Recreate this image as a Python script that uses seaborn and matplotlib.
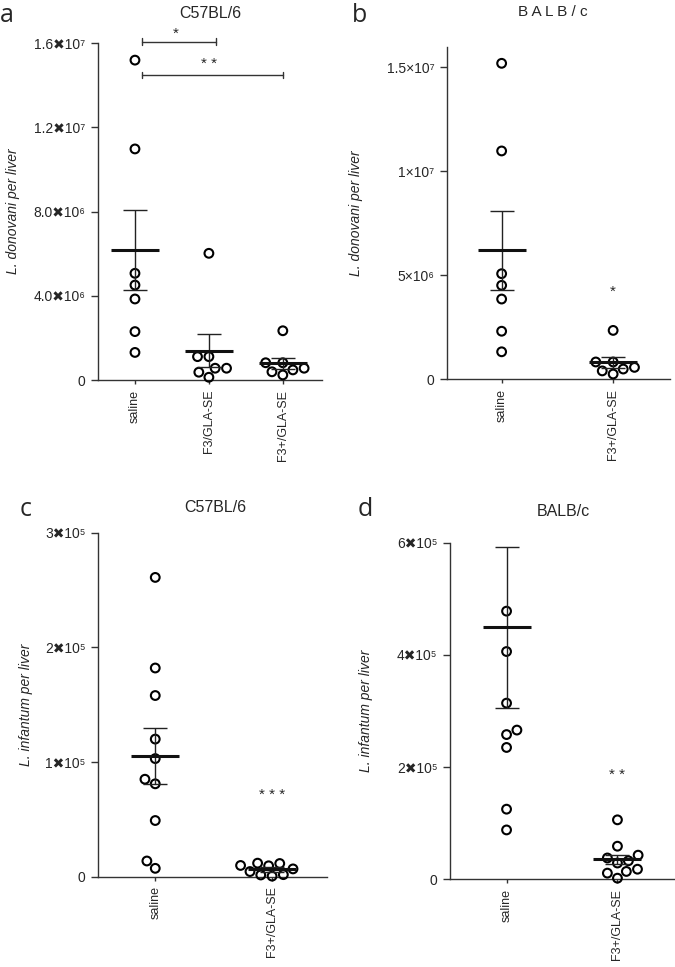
import matplotlib
matplotlib.use("Agg")
import matplotlib.pyplot as plt
import seaborn as sns
import pandas as pd
import numpy as np

# ---------------- data ----------------
groups_a = ["saline", "F3/GLA-SE", "F3+/GLA-SE"]
groups_2 = ["saline", "F3+/GLA-SE"]

# panel a / b : L. donovani per liver
don_saline = [15.2e6, 10.98e6, 5.07e6, 4.51e6, 3.85e6, 2.30e6, 1.31e6]
don_f3 = [6.02e6, 1.11e6, 1.11e6, 0.56e6, 0.56e6, 0.37e6, 0.13e6]
don_f3plus = [2.34e6, 0.82e6, 0.82e6, 0.56e6, 0.48e6, 0.39e6, 0.24e6]
mean_a = [6.18e6, 1.39e6, 0.79e6]
sem_a = [1.90e6, 0.78e6, 0.27e6]
mean_b = [6.20e6, 0.80e6]
sem_b = [1.90e6, 0.26e6]

# panel c : L. infantum per liver (C57BL/6)
inf_c_saline = [2.61e5, 1.82e5, 1.58e5, 1.20e5, 1.03e5, 0.85e5, 0.81e5, 0.49e5, 0.137e5, 0.073e5]
inf_c_f3plus = [9.5e3, 11.5e3, 11.8e3, 9.8e3, 1.5e3, 0.5e3, 1.8e3, 4.5e3, 6.8e3]
mean_c = [1.055e5, 6.4e3]
sem_c = [0.245e5, 2.0e3]

# panel d : L. infantum per liver (BALB/c)
inf_d_saline = [4.78e5, 4.06e5, 3.14e5, 2.66e5, 2.58e5, 2.35e5, 1.25e5, 0.88e5]
inf_d_f3plus = [1.06e5, 0.59e5, 0.43e5, 0.38e5, 0.33e5, 0.29e5, 0.18e5, 0.14e5, 0.11e5, 0.02e5]
mean_d = [4.49e5, 0.36e5]
sem_d = [1.43e5, 0.08e5]

ticks_a = [0, 4e6, 8e6, 1.2e7, 1.6e7]
ticklabels_a = ["0", "4.0\u271610\u2076", "8.0\u271610\u2076", "1.2\u271610\u2077", "1.6\u271610\u2077"]
ticks_b = [0, 5e6, 1e7, 1.5e7]
ticklabels_b = ["0", "5\u00d710\u2076", "1\u00d710\u2077", "1.5\u00d710\u2077"]
ticks_c = [0, 1e5, 2e5, 3e5]
ticklabels_c = ["0", "1\u271610\u2075", "2\u271610\u2075", "3\u271610\u2075"]
ticks_d = [0, 2e5, 4e5, 6e5]
ticklabels_d = ["0", "2\u271610\u2075", "4\u271610\u2075", "6\u271610\u2075"]

# ---------------- style ----------------
sns.set_style("ticks")
plt.rcParams["font.family"] = ["Liberation Sans", "DejaVu Sans"]
plt.rcParams["axes.edgecolor"] = "#333333"
plt.rcParams["axes.linewidth"] = 1.0

W, H = 675, 967
fig = plt.figure(figsize=(W / 100, H / 100), dpi=100)


def rect(l, r, t, b):
    return [l / W, 1 - b / H, (r - l) / W, (b - t) / H]


def panel(ax, frames, order, means, sems, ylim, ticks, ticklabels, xlim, ylabel, labx):
    df = pd.concat([pd.DataFrame({"group": g, "value": v}) for g, v in zip(order, frames)])
    sns.swarmplot(data=df, x="group", y="value", order=order, size=6.3,
                  color="black", linewidth=1.5, ax=ax, zorder=3)
    for coll in ax.collections:
        coll.set_facecolor("none")
        coll.set_edgecolor("black")
        coll.set_linewidth(1.5)
        coll.set_clip_on(False)
    xs = np.arange(len(order))
    ax.errorbar(xs, means, yerr=sems, fmt="none", ecolor="#222222",
                elinewidth=1.0, capsize=8.5, capthick=1.0, zorder=4)
    ax.errorbar(xs, means, fmt="_", color="#111111", markersize=34,
                markeredgewidth=2.2, linestyle="none", zorder=5)
    ax.set_ylim(*ylim)
    ax.set_xlim(*xlim)
    ax.set_yticks(ticks)
    ax.set_yticklabels(ticklabels, fontsize=10)
    ax.set_xticks(xs)
    ax.set_xticklabels(order, rotation=90, fontsize=9)
    ax.tick_params(axis="y", length=5, width=1, color="#333333", pad=4)
    ax.tick_params(axis="x", length=3, width=1, color="#333333", pad=4)
    ax.set_xlabel("")
    ax.set_ylabel(ylabel, fontsize=10, style="italic")
    ax.yaxis.set_label_coords(labx, 0.5)
    sns.despine(ax=ax)


ax_a = fig.add_axes(rect(98, 322, 43.3, 380))
panel(ax_a, [don_saline, don_f3, don_f3plus], groups_a, mean_a, sem_a,
      (0, 1.6e7), ticks_a, ticklabels_a, (-0.5, 2.53), "L. donovani per liver", -0.35)

ax_b = fig.add_axes(rect(447, 670, 46.7, 379))
panel(ax_b, [don_saline, don_f3plus], groups_2, mean_b, sem_b,
      (0, 1.6e7), ticks_b, ticklabels_b, (-0.49, 1.51), "L. donovani per liver", -0.377)

ax_c = fig.add_axes(rect(98, 327, 532.7, 876.7))
panel(ax_c, [inf_c_saline, inf_c_f3plus], groups_2, mean_c, sem_c,
      (0, 3e5), ticks_c, ticklabels_c, (-0.49, 1.47), "L. infantum per liver", -0.284)

ax_d = fig.add_axes(rect(450, 674, 542.7, 879.3))
panel(ax_d, [inf_d_saline, inf_d_f3plus], groups_2, mean_d, sem_d,
      (0, 6e5), ticks_d, ticklabels_d, (-0.51, 1.51), "L. infantum per liver", -0.344)

# significance marks
br = dict(color="#333333", lw=1.0, clip_on=False)
for (x0, x1, y, star, ys) in [(0.1, 1.1, 16.08e6, "*", 16.45e6), (0.1, 2.0, 14.5e6, "* *", 15.0e6)]:
    ax_a.plot([x0, x1], [y, y], **br)
    ax_a.plot([x0, x0], [y - 0.15e6, y + 0.15e6], **br)
    ax_a.plot([x1, x1], [y - 0.15e6, y + 0.15e6], **br)
    ax_a.text((x0 + x1) / 2 - 0.05, ys, star, ha="center", va="center", fontsize=11)
ax_b.text(1, 4.2e6, "*", ha="center", va="center", fontsize=11)
ax_c.text(1, 0.71e5, "* * *", ha="center", va="center", fontsize=11)
ax_d.text(1, 1.86e5, "* *", ha="center", va="center", fontsize=11)


def ftext(x, y, s, **kw):
    fig.text(x / W, 1 - y / H, s, **kw)


ftext(210, 13, "C57BL/6", ha="center", va="center", fontsize=11.5)
ftext(553, 12, "B A L B / c", ha="center", va="center", fontsize=11)
ftext(215, 508, "C57BL/6", ha="center", va="center", fontsize=11.5)
ftext(563, 511, "BALB/c", ha="center", va="center", fontsize=11.5)

lf = dict(ha="left", va="center", fontsize=18, family=["Open Sans", "DejaVu Sans"])
ftext(0, 15, "a", **lf)
ftext(352, 15, "b", **lf)
ftext(20, 510, "c", **lf)
ftext(358, 510, "d", **lf)

fig.savefig("out.png", dpi=100)
